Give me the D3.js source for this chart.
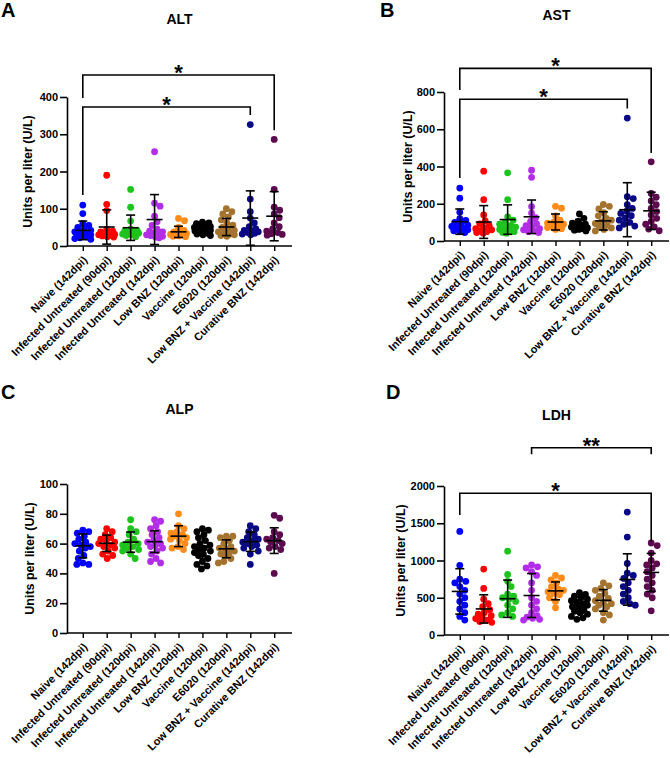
<!DOCTYPE html>
<html><head><meta charset="utf-8">
<script src="https://cdn.jsdelivr.net/npm/d3@7"></script>
<style>
body{margin:0;background:#fff}
svg{display:block}
text{font-family:"Liberation Sans",Arial,Helvetica,sans-serif;font-weight:bold;fill:#000}
</style></head>
<body>
<svg id="chart" width="670" height="758"></svg>
<script>
// ---------- DATA ----------
const categories = ["Naive (142dpi)", "Infected Untreated (90dpi)", "Infected Untreated (120dpi)",
  "Infected Untreated (142dpi)", "Low BNZ (120dpi)", "Vaccine (120dpi)", "E6020 (120dpi)",
  "Low BNZ + Vaccine (142dpi)", "Curative BNZ (142dpi)"];
const groupColors = ["#0000ff", "#ff0000", "#1ec31e", "#b22ee6", "#ff8c1a", "#000000", "#a4732f", "#0a0a85", "#5c0b4f"];

// ALT (U/L)
const altValues = [
  [110, 87, 60, 55, 50, 45, 42, 38, 35, 33, 30, 28, 26, 24, 22, 20, 18],
  [190, 112, 95, 45, 40, 38, 35, 33, 31, 30, 28, 27, 25, 24],
  [152, 104, 67, 45, 42, 40, 38, 36, 34, 32, 30, 28, 25],
  [253, 115, 107, 80, 65, 55, 45, 40, 38, 35, 32, 30, 28, 26, 24, 22],
  [74, 68, 50, 42, 38, 35, 33, 31, 30, 28, 27, 26, 25],
  [64, 62, 60, 57, 55, 52, 50, 48, 46, 44, 42, 40, 38, 36, 34, 32, 30, 28],
  [100, 92, 86, 78, 70, 62, 56, 50, 46, 42, 38, 35, 32, 30, 28, 26],
  [326, 126, 92, 75, 62, 52, 46, 42, 40, 38, 36, 34, 32, 30],
  [286, 152, 104, 96, 86, 76, 62, 52, 46, 40, 36, 33, 31, 29]
];
const altMean = [42, 51, 49, 71, 38, 43, 51, 75, 80];
const altSD   = [25, 46, 34, 67, 15, 11, 23, 73, 66];
const altTicks = [0, 100, 200, 300, 400];

// AST (U/L)
const astValues = [
  [284, 230, 155, 120, 110, 100, 92, 85, 78, 72, 66, 60, 55, 50, 45],
  [375, 222, 140, 108, 92, 82, 72, 66, 60, 55, 50, 45, 42],
  [366, 222, 130, 112, 100, 90, 82, 75, 68, 62, 56, 50, 46, 42],
  [380, 342, 185, 150, 125, 105, 92, 82, 74, 66, 60, 55, 50, 45],
  [186, 176, 135, 112, 102, 96, 90, 84, 78, 72, 66, 62],
  [145, 122, 105, 96, 90, 85, 80, 75, 70, 66, 62, 58, 54],
  [196, 186, 172, 152, 135, 122, 112, 102, 94, 86, 78, 70, 62, 54],
  [660, 238, 228, 195, 175, 160, 148, 136, 124, 112, 100, 90, 80, 70],
  [425, 255, 235, 215, 195, 175, 158, 140, 122, 105, 90, 76, 64, 55]
];
const astMean = [104, 102, 115, 130, 102, 88, 108, 168, 162];
const astSD   = [68, 88, 79, 90, 43, 28, 49, 145, 100];
const astTicks = [0, 200, 400, 600, 800];

// ALP (U/L)
const alpValues = [
  [69, 68, 67, 65, 63, 61, 60, 59, 58, 57, 55, 52, 50, 47, 46, 46],
  [70, 68, 66, 64, 63, 62, 61, 60, 59, 58, 57, 55, 53, 52, 50],
  [76, 70, 68, 66, 63, 61, 60, 59, 58, 57, 56, 55, 53, 50],
  [76, 75, 72, 70, 68, 66, 64, 62, 61, 60, 59, 58, 57, 55, 53, 50, 48, 47],
  [80, 72, 70, 68, 67, 66, 65, 64, 63, 62, 60, 58, 57, 56],
  [70, 69, 68, 66, 64, 62, 60, 59, 58, 57, 56, 55, 54, 53, 52, 50, 48, 46, 45, 43],
  [65, 65, 64, 62, 60, 58, 57, 56, 55, 54, 53, 52, 50, 48, 47],
  [72, 70, 68, 66, 64, 63, 62, 61, 60, 59, 58, 57, 55, 53, 46],
  [79, 77, 68, 66, 64, 63, 62, 61, 60, 58, 57, 56, 40]
];
const alpMean = [58.5, 60.2, 61, 61.3, 65, 57.6, 56.5, 61.3, 62];
const alpSD   = [8, 5.5, 6.8, 7.3, 7, 7.5, 6, 6.5, 8.6];
const alpTicks = [0, 20, 40, 60, 80, 100];

// LDH (U/L)
const ldhValues = [
  [1390, 935, 750, 720, 700, 650, 600, 550, 500, 450, 400, 350, 300, 250, 200],
  [885, 625, 480, 420, 380, 340, 300, 280, 260, 240, 220, 200, 180, 170],
  [1125, 812, 720, 650, 550, 520, 500, 480, 450, 400, 350, 300, 270, 250],
  [940, 915, 900, 850, 800, 700, 600, 500, 450, 400, 350, 300, 260, 240, 225, 210, 200],
  [800, 765, 740, 700, 650, 620, 600, 580, 560, 540, 500, 450, 365],
  [570, 545, 520, 500, 480, 460, 440, 420, 400, 380, 360, 340, 320, 300, 280, 250, 230, 210],
  [700, 660, 625, 600, 560, 520, 490, 460, 440, 420, 400, 380, 350, 300, 270, 200],
  [1650, 1315, 960, 830, 800, 760, 700, 650, 600, 550, 500, 450, 420, 400],
  [1235, 1200, 1100, 1000, 955, 940, 900, 850, 800, 750, 700, 650, 600, 550, 500, 325]
];
const ldhMean = [585, 350, 487, 530, 592, 402, 465, 745, 840];
const ldhSD   = [305, 190, 250, 295, 120, 110, 145, 345, 255];
const ldhTicks = [0, 500, 1000, 1500, 2000];

// significance brackets (group indices, bracket level and leg ends in data units)
const altBrackets = [
  {from: 0, to: 8, at: 459, leftEnd: 397, rightEnd: 311, mark: "*"},
  {from: 0, to: 7, at: 373, leftEnd: 137, rightEnd: 352, mark: "*"}
];
const astBrackets = [
  {from: 0, to: 8, at: 927, leftEnd: 811, rightEnd: 472, mark: "*"},
  {from: 0, to: 7, at: 761, leftEnd: 338, rightEnd: 712, mark: "*"}
];
const alpBrackets = [];
const ldhBrackets = [
  {from: 3, to: 8, at: 2514, leftEnd: 2425, rightEnd: 2425, mark: "**"},
  {from: 0, to: 8, at: 1902, leftEnd: 1611, rightEnd: 1252, mark: "*"}
];

// ---------- LAYOUT ----------
const panels = [
  {letter: "A", title: "ALT", values: altValues, mean: altMean, sd: altSD, ticks: altTicks, brackets: altBrackets,
   ax: 67, y0: 246, yTop: 97, lx: 1, ly: 17, ty: 24, labelX: 28},
  {letter: "B", title: "AST", values: astValues, mean: astMean, sd: astSD, ticks: astTicks, brackets: astBrackets,
   ax: 444, y0: 241, yTop: 92, lx: 380, ly: 17, ty: 20, labelX: 408},
  {letter: "C", title: "ALP", values: alpValues, mean: alpMean, sd: alpSD, ticks: alpTicks, brackets: alpBrackets,
   ax: 67, y0: 633, yTop: 484, lx: 1, ly: 399, ty: 414, labelX: 30},
  {letter: "D", title: "LDH", values: ldhValues, mean: ldhMean, sd: ldhSD, ticks: ldhTicks, brackets: ldhBrackets,
   ax: 444, y0: 635, yTop: 486, lx: 386, ly: 399, ty: 420, labelX: 401}
];

const svg = d3.select("#chart");
const R = 3.4;

function swarm(vals, y, cx, r) {
  const pts = vals.map(v => ({v: v, py: y(v)}));
  const order = pts.slice().sort((a, b) => a.py - b.py);
  const placed = [];
  const minD = 2 * r * 0.9;
  order.forEach(p => {
    let best = 0, bestD = -1;
    for (let k = 0; k <= 40; k++) {
      const off = k === 0 ? 0 : (k % 2 ? 1 : -1) * Math.ceil(k / 2) * 0.5;
      if (Math.abs(off) > 8) break;
      let dmin = Infinity;
      for (const q of placed) {
        const d = Math.hypot(q.px - (cx + off), q.py - p.py);
        if (d < dmin) dmin = d;
      }
      if (dmin >= minD) { best = off; bestD = Infinity; break; }
      if (dmin > bestD) { bestD = dmin; best = off; }
    }
    p.px = cx + best;
    placed.push(p);
  });
  return pts;
}

panels.forEach(p => {
  const g = svg.append("g");
  const x = d3.scalePoint().domain(categories).range([p.ax, p.ax + 223]).padding(0.66);
  const y = d3.scaleLinear().domain([0, d3.max(p.ticks)]).range([p.y0, p.yTop]);

  // y axis
  const ya = g.append("g").attr("transform", `translate(${p.ax},0)`)
    .call(d3.axisLeft(y).tickValues(p.ticks).tickFormat(d3.format("d")).tickSize(7).tickPadding(2).tickSizeOuter(0));
  ya.attr("font-family", null);
  ya.select(".domain").attr("stroke-width", 1.6);
  ya.selectAll(".tick line").attr("stroke-width", 1.6);
  ya.selectAll("text").style("font-size", "11px");

  // x axis
  const xa = g.append("g").attr("transform", `translate(0,${p.y0})`)
    .call(d3.axisBottom(x).tickSize(5).tickSizeOuter(0));
  xa.attr("font-family", null);
  xa.select(".domain").remove();
  xa.append("line").attr("x1", p.ax).attr("x2", p.ax + 225).attr("stroke", "#000").attr("stroke-width", 1.6);
  xa.selectAll(".tick line").attr("stroke-width", 1.4);
  xa.selectAll(".tick text")
    .attr("y", 0).attr("dy", "0.35em").attr("text-anchor", "end")
    .attr("transform", "translate(2,12) rotate(-45)")
    .style("font-size", "11px");

  // y label
  g.append("text")
    .attr("transform", `translate(${p.labelX},${(p.y0 + p.yTop) / 2}) rotate(-90)`)
    .attr("text-anchor", "middle").attr("dy", "0.35em")
    .style("font-size", "12.5px")
    .text("Units per liter (U/L)");

  // title & letter
  g.append("text").attr("x", p.ax + 112.5).attr("y", p.ty).attr("text-anchor", "middle")
    .style("font-size", "14px").text(p.title);
  g.append("text").attr("x", p.lx).attr("y", p.ly).style("font-size", "20px").text(p.letter);

  // points
  p.values.forEach((vals, i) => {
    const pts = swarm(vals, y, x(categories[i]), R);
    g.append("g").selectAll("circle").data(pts).join("circle")
      .attr("cx", d => d.px).attr("cy", d => d.py).attr("r", R)
      .attr("fill", groupColors[i]);
  });

  // mean +/- SD
  const eb = g.append("g").attr("stroke", "#000").attr("stroke-width", 1.6).attr("fill", "none");
  categories.forEach((c, i) => {
    const cx = x(c), m = p.mean[i], s = p.sd[i];
    eb.append("line").attr("x1", cx - 8).attr("x2", cx + 8).attr("y1", y(m)).attr("y2", y(m));
    eb.append("line").attr("x1", cx).attr("x2", cx).attr("y1", y(m - s)).attr("y2", y(m + s));
    eb.append("line").attr("x1", cx - 4.5).attr("x2", cx + 4.5).attr("y1", y(m + s)).attr("y2", y(m + s));
    eb.append("line").attr("x1", cx - 4.5).attr("x2", cx + 4.5).attr("y1", y(m - s)).attr("y2", y(m - s));
  });

  // brackets
  p.brackets.forEach(b => {
    const x1 = x(categories[b.from]), x2 = x(categories[b.to]);
    g.append("path")
      .attr("d", `M${x1},${y(b.leftEnd)}V${y(b.at)}H${x2}V${y(b.rightEnd)}`)
      .attr("fill", "none").attr("stroke", "#000").attr("stroke-width", 1.6);
    g.append("text").attr("x", (x1 + x2) / 2).attr("y", y(b.at) + 5)
      .attr("text-anchor", "middle").style("font-size", "22px").text(b.mark);
  });
});
</script>
</body></html>
